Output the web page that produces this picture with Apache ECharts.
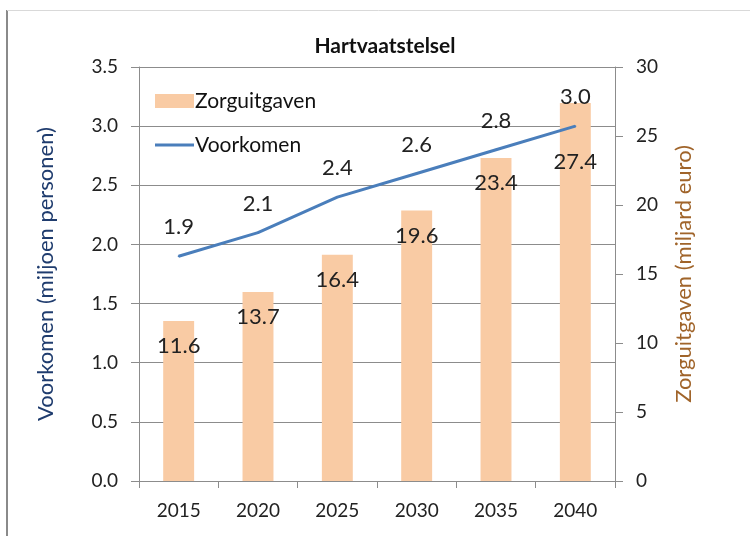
<!DOCTYPE html>
<html>
<head>
<meta charset="utf-8">
<script src="https://cdn.jsdelivr.net/npm/echarts@6/dist/echarts.min.js"></script>
<style>
  html, body { margin: 0; padding: 0; background: #fff; }
  #chart { width: 750px; height: 536px; }
</style>
</head>
<body>
<div id="chart"></div>
<script>
// Hartvaatstelsel: zorguitgaven (bars, right axis) and voorkomen (line, left axis)
const years = ['2015', '2020', '2025', '2030', '2035', '2040'];
const zorguitgaven = [11.6, 13.7, 16.4, 19.6, 23.4, 27.4];   // miljard euro
const voorkomen = [1.9, 2.1, 2.4, 2.6, 2.8, 3.0];             // miljoen personen

const FONT = 'Lato, "Liberation Sans", sans-serif';
const GRID = '#8c8c8c';
const BLUE = '#4a7ebb';
const PEACH = '#f9cba4';

const chart = echarts.init(document.getElementById('chart'), null, { renderer: 'canvas' });

const barData = zorguitgaven.map((v, i) =>
  i === zorguitgaven.length - 1
    ? { value: v, label: { offset: [0, 34] } }   // keep clear of the line label above
    : v
);

chart.setOption({
  backgroundColor: '#fff',
  animation: false,
  textStyle: { fontFamily: FONT },
  title: {
    text: 'Hartvaatstelsel',
    left: 380, top: 31, textAlign: 'center',
    textStyle: { fontFamily: FONT, fontSize: 21, fontWeight: 'bold', color: '#111' }
  },
  graphic: [
    { type: 'line', shape: { x1: 7, y1: 10, x2: 7, y2: 536 }, style: { stroke: '#8a8a8a', lineWidth: 2 } },
    { type: 'line', shape: { x1: 7, y1: 10.5, x2: 750, y2: 10.5 }, style: { stroke: '#d9d9d9', lineWidth: 1 } }
  ],
  legend: {
    orient: 'vertical',
    left: 150, top: 85,
    itemWidth: 39, itemHeight: 14, itemGap: 22,
    textStyle: { fontFamily: FONT, fontSize: 21, lineHeight: 22, color: '#111', padding: [0, 0, 0, -4] },
    data: [
      { name: 'Zorguitgaven', icon: 'rect', itemStyle: { color: PEACH } },
      { name: 'Voorkomen', icon: 'path://M0,0 L40,0 L40,3 L0,3 Z', itemStyle: { color: BLUE } }
    ]
  },
  grid: { left: 139, right: 135, top: 67, bottom: 55, containLabel: false },
  xAxis: {
    type: 'category',
    data: years,
    boundaryGap: true,
    axisLine: { lineStyle: { color: GRID, width: 1 } },
    axisTick: { show: true, length: 7, lineStyle: { color: GRID } },
    axisLabel: { margin: 20, fontFamily: FONT, fontSize: 19, color: '#222' }
  },
  yAxis: [
    {
      type: 'value', min: 0, max: 3.5, interval: 0.5, position: 'left',
      name: 'Voorkomen (miljoen personen)',
      nameLocation: 'middle', nameRotate: 90, nameGap: 82,
      nameTextStyle: { fontFamily: FONT, fontSize: 22, color: '#1f3c6e' },
      axisLine: { show: true, lineStyle: { color: GRID } },
      axisTick: { show: true, length: 8, lineStyle: { color: GRID } },
      axisLabel: { margin: 21, fontFamily: FONT, fontSize: 19, color: '#222', formatter: v => v.toFixed(1) },
      splitLine: { show: true, lineStyle: { color: GRID, width: 1 } }
    },
    {
      type: 'value', min: 0, max: 30, interval: 5, position: 'right',
      name: 'Zorguitgaven (miljard euro)',
      nameLocation: 'middle', nameRotate: 90, nameGap: 58,
      nameTextStyle: { fontFamily: FONT, fontSize: 22, color: '#a0642a' },
      axisLine: { show: true, lineStyle: { color: GRID } },
      axisTick: { show: true, length: 8, lineStyle: { color: GRID } },
      axisLabel: { margin: 21, fontFamily: FONT, fontSize: 19, color: '#222' },
      splitLine: { show: false }
    }
  ],
  series: [
    {
      name: 'Zorguitgaven',
      type: 'bar',
      yAxisIndex: 1,
      data: barData,
      barWidth: '39%',
      itemStyle: { color: PEACH },
      label: {
        show: true, position: 'insideTop', distance: 14,
        fontFamily: FONT, fontSize: 22, color: '#222',
        formatter: p => p.value.toFixed(1)
      },
      z: 2
    },
    {
      name: 'Voorkomen',
      type: 'line',
      yAxisIndex: 0,
      data: voorkomen,
      symbol: 'circle',
      symbolSize: 2,
      showSymbol: true,
      lineStyle: { color: BLUE, width: 3 },
      itemStyle: { color: BLUE },
      label: {
        show: true, position: 'top', distance: 17,
        fontFamily: FONT, fontSize: 22, color: '#222',
        formatter: p => p.value.toFixed(1)
      },
      z: 3
    }
  ]
});
</script>
</body>
</html>
